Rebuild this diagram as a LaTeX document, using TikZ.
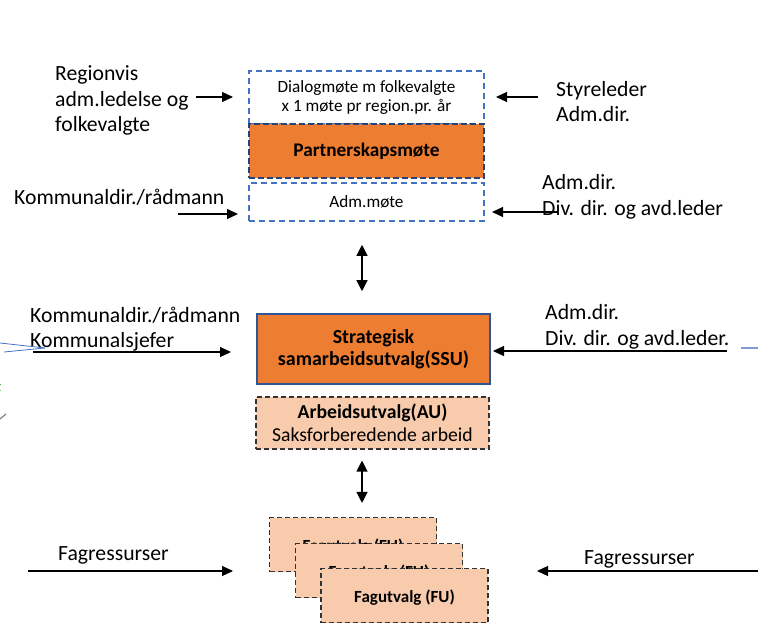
\documentclass[tikz,border=0pt]{standalone}
\usepackage{fontspec}
\setmainfont{Carlito}
\usetikzlibrary{arrows.meta}
\definecolor{orangebox}{HTML}{ED7D31}
\definecolor{peachbox}{HTML}{F8CBAD}
\definecolor{dashblue}{HTML}{4472C4}
\definecolor{darkblue}{HTML}{2F5597}
\begin{document}
\begin{tikzpicture}[x=1pt,y=-1pt,
    arr/.style={-{Triangle[length=11pt,width=10pt]},line width=1.2pt},
    darr/.style={{Triangle[length=11pt,width=11pt]}-{Triangle[length=11pt,width=11pt]},line width=1.2pt},
    lbl/.style={anchor=west,align=left,inner sep=0pt,font=\fontsize{21.7}{25.5}\selectfont},
    meetbox/.style={draw=dashblue,dashed,dash pattern=on 6pt off 4pt,line width=1.6pt,minimum width=235pt,inner sep=0pt},
    fubox/.style={draw=black!80,fill=peachbox,dash pattern=on 5pt off 3pt,line width=1.1pt,minimum width=167pt,minimum height=54pt,inner sep=0pt,text height=17pt,font=\bfseries\fontsize{17}{19}\selectfont}]
    \useasboundingbox (0,0) rectangle (758,626);
    % top group
    \node[meetbox,minimum height=53pt,align=center,font=\fontsize{17.2}{18.5}\selectfont] (dialog) at (366.5,97.5) {Dialogmøte m folkevalgte\\x 1 møte pr region.pr. år};
    \node[draw=darkblue!80!black,fill=orangebox,dashed,dash pattern=on 6pt off 3pt,line width=1.6pt,minimum width=235pt,minimum height=54pt,inner sep=0pt,font=\bfseries\fontsize{19.3}{21}\selectfont] (partner) at (366.5,151) {Partnerskapsmøte};
    \node[meetbox,minimum height=38pt,font=\fontsize{17.2}{19}\selectfont] (admmote) at (366.5,202) {Adm.møte};
    % SSU and AU
    \node[draw=darkblue,fill=orangebox,line width=1.6pt,minimum width=233pt,minimum height=70pt,inner sep=0pt,align=center,font=\bfseries\fontsize{20}{21.5}\selectfont] (ssu) at (373.5,349) {Strategisk\\samarbeidsutvalg(SSU)};
    \node[draw=black!80,fill=peachbox,dash pattern=on 5pt off 3pt,line width=1.1pt,minimum width=233pt,minimum height=52pt,inner sep=0pt,align=center,font=\fontsize{19.7}{23.5}\selectfont] (au) at (372.5,423) {\textbf{Arbeidsutvalg(AU)}\\Saksforberedende arbeid};
    % Fagutvalg
    \node[fubox] (fu1) at (353,544.5) {Fagutvalg (FU)};
    \node[fubox] (fu2) at (379,570.5) {Fagutvalg (FU)};
    \node[fubox] (fu3) at (404.5,595.5) {Fagutvalg (FU)};
    % vertical arrows
    \coordinate (axis) at (362,0);
    \draw[darr] ([yshift=-23pt]axis |- admmote.south) -- ([yshift=22pt]axis |- ssu.north);
    \draw[darr] ([yshift=-11pt]axis |- au.south) -- ([yshift=14pt]axis |- fu1.north);
    % labels left
    \node[lbl] (regionvis) at (55,100.5) {Regionvis\\adm.ledelse og\\folkevalgte};
    \node[lbl] (komm1) at (14,197) {Kommunaldir./rådmann};
    \node[lbl] (komm2) at (30,329) {Kommunaldir./rådmann\\Kommunalsjefer};
    \node[lbl] (fagl) at (58,555) {Fagressurser};
    % labels right
    \node[lbl] (styre) at (556,101.5) {Styreleder\\Adm.dir.};
    \node[lbl] (admdir1) at (542,197) {Adm.dir.\\Div. dir. og avd.leder};
    \node[lbl] (admdir2) at (545,327) {Adm.dir.\\Div. dir. og avd.leder.};
    \node[lbl] (fagr) at (584,559) {Fagressurser};
    % arrows in
    \coordinate (a1) at (196,97);  \coordinate (b1) at (233,97);
    \coordinate (a2) at (178,214); \coordinate (b2) at (238,214);
    \coordinate (a3) at (33,352);  \coordinate (b3) at (231,352);
    \coordinate (a4) at (28,571);  \coordinate (b4) at (233,571);
    \coordinate (c1) at (538,97);  \coordinate (d1) at (496,97);
    \coordinate (c2) at (558,212); \coordinate (d2) at (492,212);
    \coordinate (c3) at (727,351); \coordinate (d3) at (493,351);
    \coordinate (c4) at (758,571); \coordinate (d4) at (537,571);
    \foreach \p/\q in {a1/b1,a2/b2,a3/b3,a4/b4,c1/d1,c2/d2,c3/d3,c4/d4}
        \draw[arr] (\p) -- (\q);
    % bits of the neighbouring figure at the edges
    \draw[dashblue,line width=0.8pt] (0,343) -- (45,348);
    \draw[dashblue,line width=0.8pt] (4,352) -- (45,348);
    \draw[dashblue!70,line width=1.6pt] (741,348) -- (758,348);
    \draw[green!60!black,line width=2pt] (0,384) arc (-60:60:-4pt);
    \draw[gray,line width=1.2pt] (0,419) -- (6,414);
\end{tikzpicture}
\end{document}
